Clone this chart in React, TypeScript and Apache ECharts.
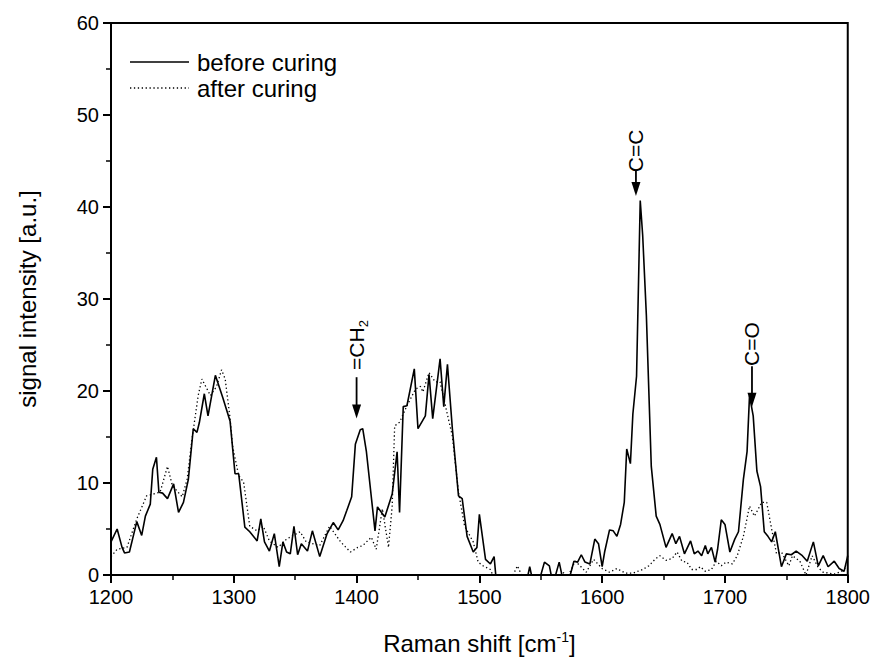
import React, { useEffect, useRef } from "react";
import * as echarts from "echarts";

// "before curing" spectrum (solid)
const beforeX = [1200,1205,1209,1211,1215,1221,1225,1228,1232,1234,1237,1239,1242,1246,1251,1255,1259,1263,1267,1270,1272,1276,1279,1285,1291,1297,1301,1304,1309,1313,1319,1322,1325,1329,1333,1337,1340,1343,1346,1349,1352,1355,1360,1364,1370,1376,1381,1385,1389,1392,1396,1399,1403,1405,1408,1415,1417,1423,1429,1433,1435,1438,1441,1447,1450,1456,1459,1462,1468,1471,1474,1478,1483,1486,1490,1495,1498,1500,1505,1509,1512,1514,1520,1526,1532,1538,1541,1544,1549,1553,1557,1560,1565,1568,1574,1577,1580,1583,1586,1590,1594,1597,1600,1602,1606,1609,1612,1615,1618,1620,1623,1625,1628,1631,1633,1636,1640,1644,1647,1652,1657,1660,1663,1667,1672,1675,1678,1681,1684,1686,1689,1692,1694,1697,1700,1704,1708,1711,1715,1718,1720,1723,1726,1729,1732,1735,1738,1741,1746,1750,1754,1758,1763,1767,1772,1776,1780,1784,1789,1793,1797,1800];
const beforeY = [3.6,5.0,3.0,2.4,2.5,5.8,4.3,6.4,7.7,11.5,12.8,9.0,8.9,8.3,9.9,6.8,7.9,10.4,15.9,15.5,16.6,19.7,17.3,21.7,19.3,16.7,11.0,11.0,5.2,4.7,3.7,6.1,3.6,2.6,4.5,0.9,3.6,2.5,2.3,5.3,2.2,3.4,2.6,4.8,2.0,4.5,5.7,4.9,5.9,7.0,8.5,14.2,15.8,15.9,13.4,4.8,7.4,6.3,8.8,13.4,6.8,18.3,18.4,22.4,15.9,17.3,21.8,17.0,23.5,18.3,22.9,15.9,8.6,8.3,4.2,2.5,3.0,6.6,1.7,1.2,2.0,-1.0,-2.0,-1.5,-1.0,-1.0,0.9,-1.0,-0.5,1.4,1.0,-1.0,1.4,-0.5,0.0,1.5,1.4,2.2,1.4,1.2,3.9,3.4,0.9,2.5,4.9,4.8,4.2,5.5,7.9,13.7,12.1,17.5,21.6,40.7,36.9,28.2,11.8,6.4,5.5,3.0,4.5,3.4,4.2,2.3,3.7,2.3,2.6,2.1,3.2,2.3,3.0,1.4,2.8,6.0,5.5,2.5,3.9,4.7,10.4,13.4,19.5,17.3,11.3,9.6,4.7,4.2,3.6,4.7,0.9,2.3,2.2,2.6,2.1,1.5,3.6,1.0,2.1,0.9,1.5,0.7,0.4,2.1];

// "after curing" spectrum (dotted)
const afterX = [1200,1205,1213,1221,1229,1240,1246,1250,1258,1262,1266,1271,1274,1281,1286,1290,1293,1297,1299,1304,1308,1313,1319,1324,1329,1336,1343,1354,1359,1370,1378,1387,1395,1401,1405,1412,1416,1421,1426,1429,1431,1435,1441,1448,1452,1454,1459,1464,1468,1473,1478,1483,1488,1495,1499,1503,1509,1514,1522,1531,1536,1545,1555,1563,1568,1572,1578,1582,1587,1593,1600,1606,1612,1619,1625,1633,1638,1643,1647,1652,1657,1661,1665,1669,1673,1677,1680,1684,1689,1693,1697,1701,1706,1710,1715,1720,1724,1730,1734,1738,1742,1746,1752,1755,1761,1766,1771,1776,1780,1789,1795,1800];
const afterY = [2.0,2.8,3.0,6.1,8.6,9.0,11.8,9.7,8.5,10.4,14.8,19.5,21.3,19.5,20.5,22.3,21.3,17.0,14.0,10.8,10.1,5.3,4.8,5.3,3.7,3.0,3.9,4.7,3.6,3.2,5.3,3.6,2.5,3.0,3.2,4.1,2.8,7.2,3.0,7.5,16.2,16.6,18.4,20.2,20.5,19.9,22.0,21.0,21.0,18.0,15.1,9.0,5.3,3.6,1.4,1.0,0.6,-1.0,-1.5,1.0,-0.5,-1.0,-0.5,-0.5,0.3,-0.2,1.5,1.0,0.3,1.7,0.7,0.3,0.7,0.2,0.2,0.6,1.0,1.7,2.1,1.6,1.8,2.5,1.5,1.4,0.6,0.6,0.9,0.4,0.6,1.5,1.0,1.4,1.2,2.1,4.2,7.5,6.4,7.9,7.9,5.0,2.3,2.5,1.0,2.1,1.5,0.0,2.1,0.8,0.3,0.1,0.4,1.0];

// axis ticks
const xMin = 1200, xMax = 1800, xStep = 100;
const yMin = 0, yMax = 60, yStep = 10;

// legend entries
const legendNames = ["before curing", "after curing"];

// peak annotations
const annLabels = ["=CH{s|2}", "C=C", "C=O"];
const annX = [1400, 1627.5, 1722];
const annTextY = [25.0, 46.1, 25.1];
const annArrowTop = [21.5, 43.9, 22.7];
const annArrowTip = [17.0, 41.2, 18.3];

const FONT = "Liberation Sans, Arial, Helvetica, sans-serif";

export default function App() {
  const ref = useRef<HTMLDivElement>(null);
  useEffect(() => {
    if (!ref.current) return;
    const chart = echarts.init(ref.current, undefined, { renderer: "svg" });
    const before = beforeX.map((x, i) => [x, beforeY[i]]);
    const after = afterX.map((x, i) => [x, afterY[i]]);
    const dotted = [1.3, 2.6];
    chart.setOption({
      animation: false,
      backgroundColor: "#ffffff",
      grid: {
        left: 111, right: 25, top: 23, bottom: 84,
        show: true, borderColor: "#000", borderWidth: 2, backgroundColor: "transparent",
      },
      xAxis: {
        type: "value", min: xMin, max: xMax, interval: xStep,
        name: "Raman shift [cm{sup|-1}]",
        nameLocation: "middle", nameGap: 55,
        nameTextStyle: {
          fontFamily: FONT, fontSize: 24, color: "#000",
          rich: { sup: { fontFamily: FONT, fontSize: 14, color: "#000", verticalAlign: "top", padding: [0, 0, 12, 0] } },
        },
        axisLine: { show: true, onZero: false, lineStyle: { color: "#000", width: 2 } },
        axisTick: { show: true, inside: false, length: 8, lineStyle: { color: "#000", width: 2 } },
        minorTick: { show: true, splitNumber: 2, length: 5, lineStyle: { color: "#000", width: 1.5 } },
        axisLabel: { fontFamily: FONT, fontSize: 20, color: "#000", margin: 12, formatter: (v: number) => String(v) },
        splitLine: { show: false },
      },
      yAxis: {
        type: "value", min: yMin, max: yMax, interval: yStep,
        name: "signal intensity [a.u.]",
        nameLocation: "middle", nameGap: 72,
        nameTextStyle: { fontFamily: FONT, fontSize: 24, color: "#000" },
        axisLine: { show: true, onZero: false, lineStyle: { color: "#000", width: 2 } },
        axisTick: { show: true, inside: false, length: 8, lineStyle: { color: "#000", width: 2 } },
        minorTick: { show: true, splitNumber: 2, length: 5, lineStyle: { color: "#000", width: 1.5 } },
        axisLabel: { fontFamily: FONT, fontSize: 20, color: "#000", margin: 12 },
        splitLine: { show: false },
      },
      series: [
        {
          name: legendNames[0], type: "line", data: before, symbol: "none", showSymbol: false,
          clip: true, lineStyle: { color: "#000", width: 1.6, type: "solid" },
        },
        {
          name: legendNames[1], type: "line", data: after, symbol: "none", showSymbol: false,
          clip: true, lineStyle: { color: "#000", width: 1.3, type: dotted },
        },
      ],
    });
    const elements: any[] = [];
    // legend
    legendNames.forEach((n, i) => {
      const y = 62 + i * 26;
      elements.push({
        type: "line", shape: { x1: 130, y1: y, x2: 189, y2: y },
        style: { stroke: "#000", lineWidth: i === 0 ? 1.6 : 1.3, lineDash: i === 0 ? null : dotted },
      });
      elements.push({
        type: "text", x: 197, y: y,
        style: {
          text: n, fontFamily: FONT, fontSize: 24, fill: "#000",
          align: "left", verticalAlign: "middle",
        },
      });
    });
    annX.forEach((x, i) => {
      const t = chart.convertToPixel({ xAxisIndex: 0, yAxisIndex: 0 }, [x, annTextY[i]]) as number[];
      const a = chart.convertToPixel({ xAxisIndex: 0, yAxisIndex: 0 }, [x, annArrowTop[i]]) as number[];
      const b = chart.convertToPixel({ xAxisIndex: 0, yAxisIndex: 0 }, [x, annArrowTip[i]]) as number[];
      elements.push({
        type: "text", x: t[0], y: t[1], rotation: Math.PI / 2,
        style: {
          text: annLabels[i], fontFamily: FONT, fontSize: 21, fill: "#000",
          align: "center", verticalAlign: "middle",
          rich: { s: { fontFamily: FONT, fontSize: 13, fill: "#000", padding: [14, 0, 0, 0] } },
        },
      });
      elements.push({
        type: "line", shape: { x1: a[0], y1: a[1], x2: b[0], y2: b[1] - 10 },
        style: { stroke: "#000", lineWidth: 1.8 },
      });
      elements.push({
        type: "polygon",
        shape: { points: [[b[0] - 4.5, b[1] - 14], [b[0] + 4.5, b[1] - 14], [b[0], b[1]]] },
        style: { fill: "#000" },
      });
    });
    chart.setOption({ graphic: elements });
    return () => chart.dispose();
  }, []);
  return <div ref={ref} style={{ position: "fixed", left: 0, top: 0, width: 873, height: 660 }} />;
}
